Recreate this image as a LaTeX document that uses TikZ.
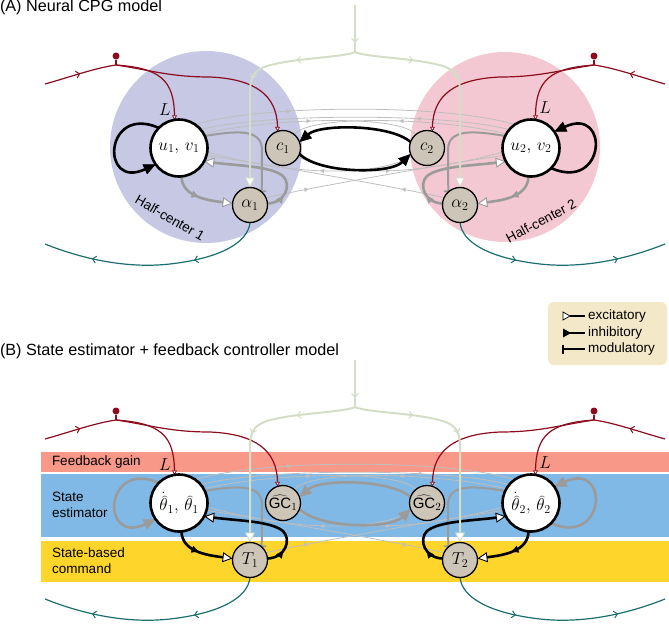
\documentclass[tikz,border=0pt]{standalone}
\usepackage{fontspec}
\setmainfont{Liberation Sans}
\usetikzlibrary{arrows.meta,decorations.markings}
\definecolor{hcBlue}{RGB}{198,200,228}
\definecolor{hcPink}{RGB}{244,200,210}
\definecolor{nodeC}{RGB}{204,197,184}
\definecolor{greenC}{RGB}{212,222,198}
\definecolor{redC}{RGB}{140,12,30}
\definecolor{tealC}{RGB}{28,110,110}
\definecolor{grayT}{RGB}{155,155,155}
\definecolor{grayL}{RGB}{190,190,190}
\definecolor{bandR}{RGB}{248,152,136}
\definecolor{bandB}{RGB}{128,185,230}
\definecolor{bandY}{RGB}{254,213,43}
\definecolor{legC}{RGB}{243,232,199}
\pgfdeclarelayer{bg}
\pgfdeclarelayer{lines}
\pgfsetlayers{bg,lines,main}
\tikzset{
  every node/.style={inner sep=0pt, outer sep=0pt},
  tipExc/.tip={Triangle[fill=white,length=10pt,width=10pt,line width=0.9pt]},
  tipInh/.tip={Triangle[length=12pt,width=11pt,line width=0.5pt]},
  tipMod/.tip={Bar[width=9pt,line width=1.6pt]},
  tipSm/.tip={Triangle[fill=white,length=4.5pt,width=5pt,line width=0.7pt]},
  tipBarb/.tip={Straight Barb[length=3.5pt,width=7pt,line width=1pt]},
  tipTri/.tip={Triangle[length=7pt,width=7pt,line width=0.3pt]},
  tipThin/.tip={Triangle[length=4pt,width=4pt,line width=0.2pt]},
  midtip/.style 2 args={postaction={decorate,decoration={markings,mark=at position #1 with {\arrow{#2}}}}},
  bignode/.style={circle, draw=black, line width=2.6pt, fill=white, minimum size=57pt, font=\fontsize{17}{20}\selectfont},
  smallnode/.style={circle, draw=black, line width=1.3pt, fill=nodeC, minimum size=35pt, font=\fontsize{18}{20}\selectfont},
  titlelab/.style={font=\fontsize{16.2}{19}\selectfont},
  lab/.style={font=\fontsize{13.5}{16}\selectfont, align=left},
  mathlab/.style={font=\fontsize{17}{20}\selectfont},
  dotnode/.style={circle, fill=redC, minimum size=7pt},
  redline/.style={redC, line width=1.2pt},
  greenline/.style={greenC, line width=2pt},
  tealline/.style={tealC, line width=1.2pt},
  thinline/.style={grayL, line width=0.8pt},
  modline/.style={grayT, line width=2pt},
}
\begin{document}
\begin{tikzpicture}[x=1pt,y=-1pt]
\useasboundingbox (0,0) rectangle (669,624);

% titles
\node[titlelab, anchor=base west] (tA) at (0,11.5) {(A) Neural CPG model};
\node[titlelab, anchor=base west] (tB) at (0,355) {(B) State estimator + feedback controller model};

% backgrounds
\begin{pgfonlayer}{bg}
\node[circle, fill=hcBlue, minimum size=192pt] (hc1) at (206,147) {};
\node[circle, fill=hcPink, minimum size=190pt] (hc2) at (505,147) {};
\node[anchor=north west, fill=bandR, minimum width=628pt, minimum height=20pt] (bandFG) at (41,452) {};
\node[anchor=north west, fill=bandB, minimum width=628pt, minimum height=63pt] (bandSE) at (41,474) {};
\node[anchor=north west, fill=bandY, minimum width=628pt, minimum height=41pt] (bandSC) at (41,541) {};
\node[anchor=north west, fill=legC, rounded corners=6pt, minimum width=119pt, minimum height=63pt] (leg) at (548,302) {};
\end{pgfonlayer}

% labels
\node[lab, rotate=-30] (hcl1) at (170,218) {Half-center 1};
\node[lab, rotate=28] (hcl2) at (541,221) {Half-center 2};
\node[lab, anchor=west] (lFG) at (52,462) {Feedback gain};
\node[lab, anchor=west] (lSE) at (52,505) {State\\estimator};
\node[lab, anchor=west] (lSC) at (52,561) {State-based\\command};

% legend
\node[lab, anchor=west] (lg1) at (588,316) {excitatory};
\node[lab, anchor=west] (lg2) at (588,333) {inhibitory};
\node[lab, anchor=west] (lg3) at (588,349) {modulatory};
\coordinate (le1) at (585,316);
\coordinate (le2) at (585,333);
\coordinate (le3) at (585,349);
\draw[line width=1.2pt] (570,316) -- (le1);
\draw[fill=white, line width=0.7pt] (563,312) -- (570,316) -- (563,320) -- cycle;
\draw[line width=1.2pt] (568,333) -- (le2);
\fill (563,328.5) -- (571,333) -- (563,337.5) -- cycle;
\draw[line width=1.2pt] (563,349) -- (le3);
\draw[line width=1.2pt] (563,344.5) -- (563,353.5);

% panel A nodes
\node[bignode] (u1A) at (179,148) {$u_1,\, v_1$};
\node[bignode] (u2A) at (531,148) {$u_2,\, v_2$};
\node[smallnode] (c1A) at (283,148) {$c_1$};
\node[smallnode] (c2A) at (427,148) {$c_2$};
\node[smallnode] (a1A) at (250,205) {$\alpha_1$};
\node[smallnode] (a2A) at (460,205) {$\alpha_2$};

% panel B nodes
\node[bignode] (u1B) at (179,503) {$\dot{\widehat{\theta}}_1,\, \widehat{\theta}_1$};
\node[bignode] (u2B) at (531,503) {$\dot{\widehat{\theta}}_2,\, \widehat{\theta}_2$};
\node[smallnode, font=\fontsize{15}{18}\selectfont] (c1B) at (283,503) {$\widehat{\mathrm{GC}}_1$};
\node[smallnode, font=\fontsize{15}{18}\selectfont] (c2B) at (427,503) {$\widehat{\mathrm{GC}}_2$};
\node[smallnode] (a1B) at (250,560) {$T_1$};
\node[smallnode] (a2B) at (460,560) {$T_2$};

\foreach \sh/\p/\cLoop/\cLink in {0/A/black/grayT, 355/B/grayT/black}{
\begin{scope}[yshift=-\sh pt]
\node[mathlab] (L1\p) at (165,110) {$L$};
\node[mathlab] (L2\p) at (545,108) {$L$};
\node[dotnode] (rd1\p) at (116,56) {};
\node[dotnode] (rd2\p) at (594,56) {};
\coordinate (rs1\p) at (45,84);
\coordinate (rj1\p) at (116,65);
\coordinate (rs2\p) at (665,84);
\coordinate (rj2\p) at (594,65);
\coordinate (gt\p) at (355,5);
\coordinate (gj\p) at (355,52);
\coordinate (te1\p) at (45,244);
\coordinate (te2\p) at (665,244);
\begin{pgfonlayer}{lines}
% thin cross lines
\draw[thinline, midtip={0.3}{tipThin}] (u1\p.55) .. controls (260,104) and (450,104) .. (u2\p.125);
\draw[thinline, midtip={0.3}{tipThin}] (u2\p.140) .. controls (450,113) and (260,113) .. (u1\p.40);
\draw[thinline, midtip={0.5}{tipThin}] (u1\p.30) .. controls (270,118) and (400,114) .. (c2\p.130);
\draw[thinline, midtip={0.5}{tipThin}] (u2\p.150) .. controls (440,118) and (310,114) .. (c1\p.50);
\draw[thinline, midtip={0.18}{tipThin}] (a1\p.25) .. controls (310,188) and (420,168) .. (u2\p.-165);
\draw[thinline, midtip={0.18}{tipThin}] (a2\p.155) .. controls (400,188) and (290,168) .. (u1\p.-15);
\draw[thinline, midtip={0.45}{tipThin}] (c1\p.-30) .. controls (340,178) and (420,175) .. (u2\p.-172);
\draw[thinline, midtip={0.45}{tipThin}] (c2\p.-150) .. controls (370,178) and (290,175) .. (u1\p.-8);
% modulatory
\draw[modline, -tipMod] (u1\p.25) .. controls (235,131) and (262,128) .. (262,150) -- (a1\p.48);
\draw[modline, -tipMod] (u2\p.155) .. controls (475,131) and (448,128) .. (448,150) -- (a2\p.132);
% self loops
\draw[\cLoop, line width=2.6pt, -tipInh] (u1\p.135) .. controls (104,104) and (100,190) .. (u1\p.-145);
\draw[\cLoop, line width=2.6pt, -tipInh] (u2\p.-45) .. controls (606,192) and (610,106) .. (u2\p.35);
% c1 <-> c2
\draw[\cLoop, line width=2.6pt, -tipInh] (c2\p.160) .. controls (390,124) and (320,124) .. (c1\p.20);
\draw[\cLoop, line width=2.6pt, -tipInh] (c1\p.-20) .. controls (320,174) and (390,174) .. (c2\p.-160);
% u <-> alpha
\draw[\cLink, line width=2.6pt, -tipExc, midtip={0.45}{tipTri}] (u1\p.-85) .. controls (182,196) and (205,200) .. (a1\p.175);
\draw[\cLink, line width=2.6pt, -tipExc, midtip={0.45}{tipTri}] (u2\p.-95) .. controls (528,196) and (505,200) .. (a2\p.5);
\draw[\cLink, line width=2.6pt, -tipExc, midtip={0.15}{tipTri}] (a1\p.5) .. controls (285,203) and (292,185) .. (283,176) .. controls (270,166) and (240,166) .. (u1\p.-28);
\draw[\cLink, line width=2.6pt, -tipExc, midtip={0.15}{tipTri}] (a2\p.175) .. controls (425,203) and (418,185) .. (427,176) .. controls (440,166) and (470,166) .. (u2\p.-152);
% red sensory
\draw[redline, midtip={0.5}{tipBarb}] (rs1\p) .. controls (70,77) and (95,68) .. (rj1\p);
\draw[redline] (rj1\p) -- (rd1\p);
\draw[redline, -tipSm] (rj1\p) .. controls (160,68) and (174,80) .. (u1\p.99);
\draw[redline, -tipSm] (rj1\p) .. controls (150,70) and (170,77) .. (210,77) .. controls (255,79) and (277,95) .. (c1\p.108);
\draw[redline, midtip={0.5}{tipBarb}] (rs2\p) .. controls (640,77) and (615,68) .. (rj2\p);
\draw[redline] (rj2\p) -- (rd2\p);
\draw[redline, -tipSm] (rj2\p) .. controls (550,68) and (536,80) .. (u2\p.81);
\draw[redline, -tipSm] (rj2\p) .. controls (560,70) and (540,77) .. (500,77) .. controls (455,79) and (433,95) .. (c2\p.72);
% green descending
\draw[greenline, midtip={0.8}{tipBarb}] (gt\p) -- (gj\p);
\draw[greenline, -tipExc, midtip={0.27}{tipBarb}, midtip={0.5}{tipBarb}] (gj\p) .. controls (345,57) and (300,58) .. (275,64) .. controls (255,68) and (250,75) .. (250,92) -- (a1\p.90);
\draw[greenline, -tipExc, midtip={0.27}{tipBarb}, midtip={0.5}{tipBarb}] (gj\p) .. controls (365,57) and (410,58) .. (435,64) .. controls (455,68) and (460,75) .. (460,92) -- (a2\p.90);
% teal motor
\draw[tealline, midtip={0.32}{tipBarb}, midtip={0.78}{tipBarb}] (a1\p.-90) .. controls (248,242) and (222,258) .. (170,264) .. controls (125,269) and (80,258) .. (te1\p);
\draw[tealline, midtip={0.32}{tipBarb}, midtip={0.78}{tipBarb}] (a2\p.-90) .. controls (462,242) and (488,258) .. (540,264) .. controls (585,269) and (630,258) .. (te2\p);
\end{pgfonlayer}
\end{scope}
}
\end{tikzpicture}
\end{document}
